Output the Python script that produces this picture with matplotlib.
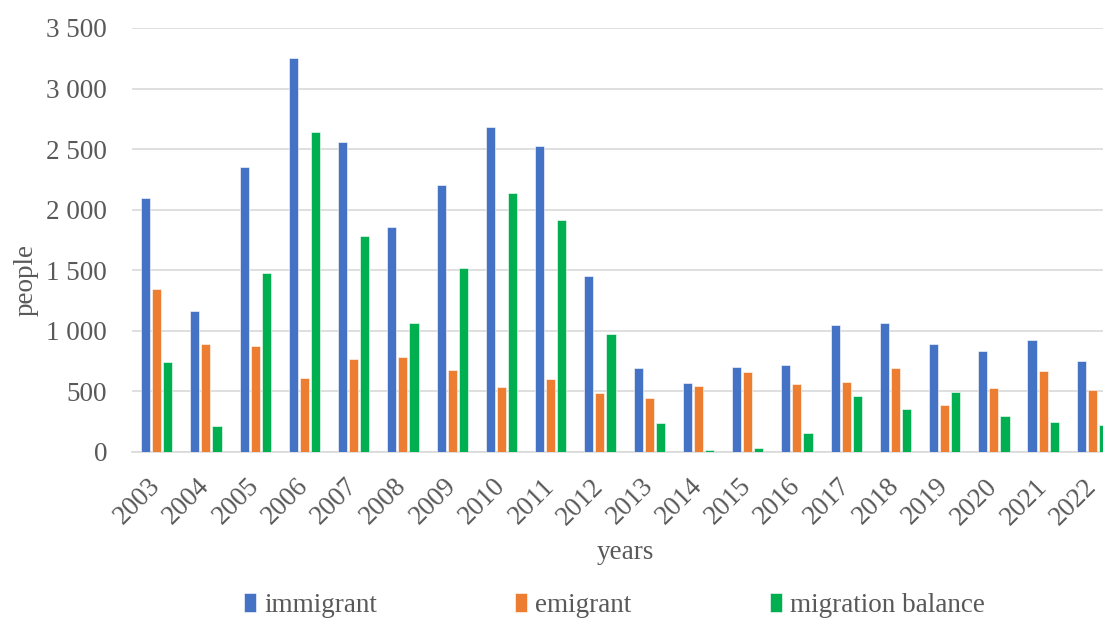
import matplotlib.pyplot as plt
import numpy as np
from matplotlib.ticker import FuncFormatter

years = ['2003', '2004', '2005', '2006', '2007', '2008', '2009', '2010', '2011', '2012',
         '2013', '2014', '2015', '2016', '2017', '2018', '2019', '2020', '2021', '2022']
immigrant = [2095, 1160, 2350, 3255, 2557, 1855, 2203, 2684, 2525, 1453,
             692, 567, 700, 722, 1050, 1064, 892, 833, 925, 750]
emigrant = [1346, 893, 871, 607, 769, 786, 679, 538, 604, 486,
            444, 544, 664, 558, 578, 697, 392, 531, 669, 514]
balance = [744, 214, 1481, 2645, 1786, 1066, 1519, 2140, 1917, 972,
           239, 20, 31, 156, 464, 358, 492, 294, 250, 225]

series_names = ['immigrant', 'emigrant', 'migration balance']
colors = ['#4472C4', '#ED7D31', '#00B050']

plt.rcParams['font.family'] = ['Liberation Serif', 'DejaVu Serif']

fig = plt.figure(figsize=(11.03, 6.19), dpi=100)
# axes runs past the right edge, like the cropped original
ax = fig.add_axes([0.1197, 0.2698, 0.8930, 0.6850])

x = np.arange(len(years))
w = 0.185
step = 0.225
for i, (vals, name, c) in enumerate(zip([immigrant, emigrant, balance], series_names, colors)):
    ax.bar(x + (i - 1) * step, vals, width=w, color=c, label=name,
           edgecolor='white', linewidth=0.4, zorder=3)

ax.set_xlim(-0.5, len(years) - 0.5)
ax.set_ylim(0, 3500)
ax.set_yticks(np.arange(0, 3501, 500))
ax.yaxis.set_major_formatter(FuncFormatter(lambda v, p: f'{int(v):,}'.replace(',', ' ')))
ax.grid(axis='y', color='#d9d9d9', linewidth=1.2, zorder=0)
for s in ['top', 'right', 'left']:
    ax.spines[s].set_visible(False)
ax.spines['bottom'].set_color('#d9d9d9')
ax.spines['bottom'].set_linewidth(1.2)

ax.set_xticks(x)
ax.set_xticklabels(years, rotation=45, ha='right', va='center', rotation_mode='anchor')
ax.tick_params(axis='both', length=0, labelsize=19.5, colors='#595959')
ax.tick_params(axis='x', pad=22)
ax.tick_params(axis='y', pad=18)

fig.text(0.5665, 0.107, 'years', fontsize=19.5, color='#595959', ha='center', va='center')
fig.text(0.024, 0.548, 'people', fontsize=19.5, color='#595959', rotation=90, ha='center', va='center')

fig.legend(loc='center', bbox_to_anchor=(0.557, 0.022), ncol=3, frameon=False,
           fontsize=19.5, labelcolor='#595959', handlelength=0.45, handleheight=0.7,
           handletextpad=0.3, columnspacing=5.1)

fig.savefig('out.png', dpi=100)
